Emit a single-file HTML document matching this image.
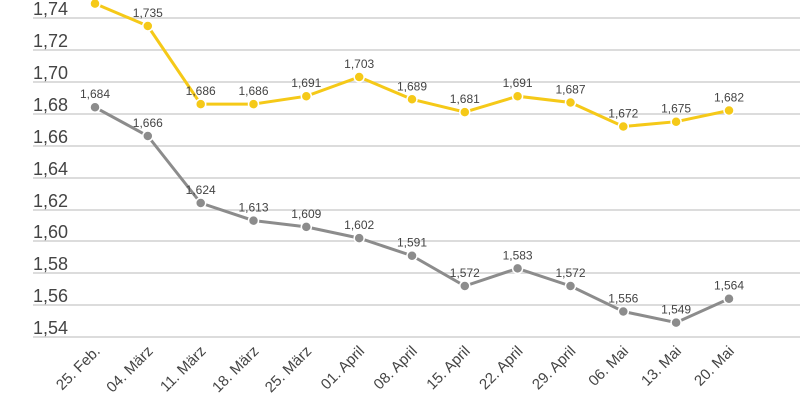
<!DOCTYPE html><html><head><meta charset="utf-8"><style>body{margin:0;background:#fff}svg{display:block}text{font-family:"Liberation Sans","DejaVu Sans",sans-serif}</style></head><body>
<svg width="800" height="400" xmlns="http://www.w3.org/2000/svg">
<g stroke="#d0d0d0" stroke-width="1.5">
<line x1="33" x2="800" y1="18" y2="18"/><line x1="33" x2="800" y1="50" y2="50"/><line x1="33" x2="800" y1="82" y2="82"/><line x1="33" x2="800" y1="114" y2="114"/><line x1="33" x2="800" y1="146" y2="146"/><line x1="33" x2="800" y1="178" y2="178"/><line x1="33" x2="800" y1="210" y2="210"/><line x1="33" x2="800" y1="241" y2="241"/><line x1="33" x2="800" y1="273" y2="273"/><line x1="33" x2="800" y1="305" y2="305"/><line x1="33" x2="800" y1="337" y2="337"/>
</g>
<g font-size="18" fill="#444">
<text x="33" y="15">1,74</text><text x="33" y="47">1,72</text><text x="33" y="79">1,70</text><text x="33" y="111">1,68</text><text x="33" y="143">1,66</text><text x="33" y="175">1,64</text><text x="33" y="207">1,62</text><text x="33" y="238">1,60</text><text x="33" y="270">1,58</text><text x="33" y="302">1,56</text><text x="33" y="334">1,54</text>
</g>
<polyline fill="none" stroke="#8c8c8c" stroke-width="3" points="95,107.3 147.8,136 200.7,203 253.5,220.6 306.3,226.9 359.2,238.1 412,255.7 464.8,286 517.6,268.4 570.5,286 623.3,311.5 676.1,322.6 729,298.7"/>
<g fill="#8c8c8c" stroke="#fff" stroke-width="1.5">
<circle cx="95" cy="107.3" r="5"/><circle cx="147.8" cy="136" r="5"/><circle cx="200.7" cy="203" r="5"/><circle cx="253.5" cy="220.6" r="5"/><circle cx="306.3" cy="226.9" r="5"/><circle cx="359.2" cy="238.1" r="5"/><circle cx="412" cy="255.7" r="5"/><circle cx="464.8" cy="286" r="5"/><circle cx="517.6" cy="268.4" r="5"/><circle cx="570.5" cy="286" r="5"/><circle cx="623.3" cy="311.5" r="5"/><circle cx="676.1" cy="322.6" r="5"/><circle cx="729" cy="298.7" r="5"/>
</g>
<polyline fill="none" stroke="#f5c918" stroke-width="3" points="95,3.6 147.8,26 200.7,104.1 253.5,104.1 306.3,96.2 359.2,77 412,99.3 464.8,112.1 517.6,96.2 570.5,102.5 623.3,126.5 676.1,121.7 729,110.5"/>
<g fill="#f5c918" stroke="#fff" stroke-width="1.5">
<circle cx="95" cy="3.6" r="5"/><circle cx="147.8" cy="26" r="5"/><circle cx="200.7" cy="104.1" r="5"/><circle cx="253.5" cy="104.1" r="5"/><circle cx="306.3" cy="96.2" r="5"/><circle cx="359.2" cy="77" r="5"/><circle cx="412" cy="99.3" r="5"/><circle cx="464.8" cy="112.1" r="5"/><circle cx="517.6" cy="96.2" r="5"/><circle cx="570.5" cy="102.5" r="5"/><circle cx="623.3" cy="126.5" r="5"/><circle cx="676.1" cy="121.7" r="5"/><circle cx="729" cy="110.5" r="5"/>
</g>
<g font-size="12" fill="#444" text-anchor="middle">
<text x="95" y="98">1,684</text><text x="147.8" y="127">1,666</text><text x="200.7" y="194">1,624</text><text x="253.5" y="211.6">1,613</text><text x="306.3" y="217.9">1,609</text><text x="359.2" y="229.1">1,602</text><text x="412" y="246.7">1,591</text><text x="464.8" y="277">1,572</text><text x="517.6" y="259.4">1,583</text><text x="570.5" y="277">1,572</text><text x="623.3" y="302.5">1,556</text><text x="676.1" y="313.6">1,549</text><text x="729" y="289.7">1,564</text>
<text x="147.8" y="17">1,735</text><text x="200.7" y="95.1">1,686</text><text x="253.5" y="95.1">1,686</text><text x="306.3" y="87.2">1,691</text><text x="359.2" y="68">1,703</text><text x="412" y="90.3">1,689</text><text x="464.8" y="103.1">1,681</text><text x="517.6" y="87.2">1,691</text><text x="570.5" y="93.5">1,687</text><text x="623.3" y="117.5">1,672</text><text x="676.1" y="112.7">1,675</text><text x="729" y="101.5">1,682</text>
</g>
<g font-size="15" fill="#444" text-anchor="end">
<text transform="translate(101,352) rotate(-45)">25. Feb.</text>
<text transform="translate(153.8,352) rotate(-45)">04. März</text>
<text transform="translate(206.7,352) rotate(-45)">11. März</text>
<text transform="translate(259.5,352) rotate(-45)">18. März</text>
<text transform="translate(312.3,352) rotate(-45)">25. März</text>
<text transform="translate(365.2,352) rotate(-45)">01. April</text>
<text transform="translate(418,352) rotate(-45)">08. April</text>
<text transform="translate(470.8,352) rotate(-45)">15. April</text>
<text transform="translate(523.6,352) rotate(-45)">22. April</text>
<text transform="translate(576.5,352) rotate(-45)">29. April</text>
<text transform="translate(629.3,352) rotate(-45)">06. Mai</text>
<text transform="translate(682.1,352) rotate(-45)">13. Mai</text>
<text transform="translate(735,352) rotate(-45)">20. Mai</text>
</g>
</svg></body></html>
